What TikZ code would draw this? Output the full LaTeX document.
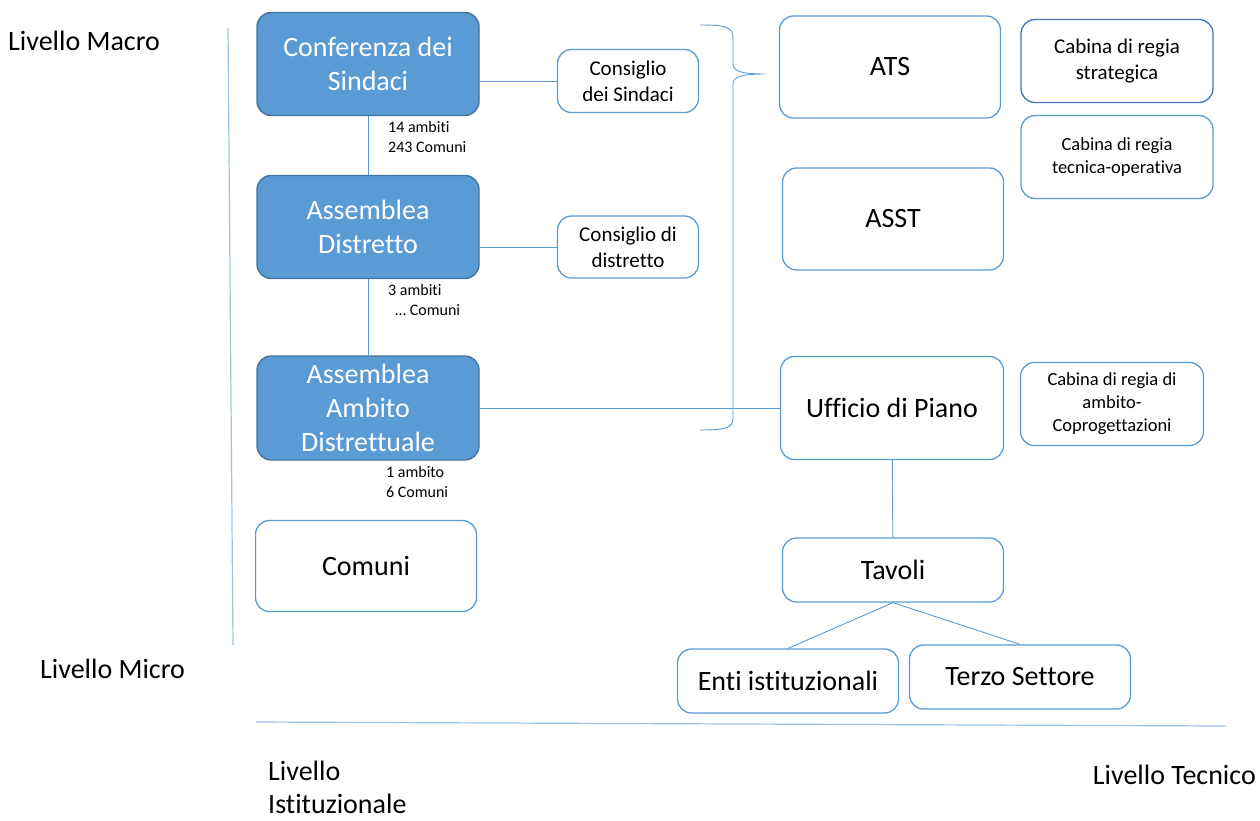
\documentclass[tikz,border=0pt]{standalone}
\usepackage{fontspec}
\setmainfont{Carlito}[Ligatures=NoCommon]
\definecolor{boxblue}{HTML}{5B9BD5}
\definecolor{boxedge}{HTML}{41719C}
\definecolor{darkedge}{HTML}{4472C4}
\definecolor{paleline}{HTML}{9DC3E6}

\begin{document}
\begin{tikzpicture}[x=1pt,y=-1pt,
    bigtxt/.style={font=\fontsize{28}{34}\selectfont},
    midtxt/.style={font=\fontsize{21}{26}\selectfont},
    smalltxt/.style={font=\fontsize{18.5}{23}\selectfont},
    tinytxt/.style={font=\fontsize{16}{20}\selectfont},
    organ/.style={rounded corners=14pt,rectangle,draw=boxedge,line width=1.3pt,fill=boxblue,text=white,align=center,minimum width=222pt,minimum height=103pt,inner sep=0pt,bigtxt},
    wbox/.style={rounded corners=14pt,rectangle,draw=boxblue,line width=1.3pt,fill=white,align=center,inner sep=0pt},
    conn/.style={draw=boxblue,line width=0.9pt}]
          \useasboundingbox (0,0) rectangle (1260,820);
          % side and bottom rules
          \draw[paleline,line width=1.2pt] (228,28) -- (233,645);
          \draw[paleline,line width=1.2pt] (256,722) -- (1226,726);
          % level labels
          \node (macro) at (8,41) [anchor=west,inner sep=0pt,bigtxt] {Livello Macro};
          \node (micro) at (40,669) [anchor=west,inner sep=0pt,bigtxt] {Livello Micro};
          \node (istit) at (268,787) [anchor=west,align=left,inner sep=0pt,font=\fontsize{28}{33}\selectfont] {Livello\\Istituzionale};
          \node (tecn) at (1256,775) [anchor=east,inner sep=0pt,bigtxt] {Livello Tecnico};
          % institutional side
          \node (conf) at (368,64) [organ] {Conferenza dei\\Sindaci};
          \node (distr) at (368,227) [organ] {Assemblea\\Distretto};
          \node (ambito) at (368,408) [organ,minimum height=104pt] {Assemblea\\Ambito\\Distrettuale};
          \node (comuni) at (366,566) [wbox,minimum width=221pt,minimum height=91pt,bigtxt] {Comuni};
          \node (nconf) at (388,137) [anchor=west,align=left,inner sep=0pt,tinytxt] {14 ambiti\\243 Comuni};
          \node (ndistr) at (388,300) [anchor=west,align=left,inner sep=0pt,tinytxt] {3 ambiti\\\hspace{7pt}\ldots\ Comuni};
          \node (nambito) at (386,482) [anchor=west,align=left,inner sep=0pt,tinytxt] {1 ambito\\6 Comuni};
          \node (csind) at (628,81) [wbox,minimum width=141pt,minimum height=63pt,midtxt] {Consiglio\\dei Sindaci};
          \node (cdistr) at (628,247) [wbox,minimum width=141pt,minimum height=62pt,midtxt] {Consiglio di\\distretto};
          % technical side
          \node (ats) at (890,67) [wbox,minimum width=221pt,minimum height=102pt,bigtxt] {ATS};
          \node (asst) at (893,219) [wbox,minimum width=221pt,minimum height=102pt,bigtxt] {ASST};
          \node (upiano) at (892,408) [wbox,minimum width=223pt,minimum height=103pt,bigtxt] {Ufficio di Piano};
          \node (tavoli) at (893,570) [wbox,minimum width=221pt,minimum height=64pt,bigtxt] {Tavoli};
          \node (enti) at (788,681) [wbox,minimum width=221pt,minimum height=64pt,bigtxt] {Enti istituzionali};
          \node (terzo) at (1020,677) [wbox,minimum width=221pt,minimum height=64pt,bigtxt] {Terzo Settore};
          \node (crstrat) at (1117,61) [wbox,draw=darkedge,minimum width=192pt,minimum height=83pt,midtxt] {Cabina di regia\\strategica};
          \node (crtecn) at (1117,157) [wbox,minimum width=192pt,minimum height=83pt,smalltxt] {Cabina di regia\\tecnica-operativa};
          \node (cramb) at (1112,404) [wbox,minimum width=183pt,minimum height=83pt,smalltxt] {Cabina di regia di\\ambito-\\Coprogettazioni};
          % connectors
          \draw[conn] (conf) -- (distr);
          \draw[conn] (distr) -- (ambito);
          \draw[conn] (csind.west -| conf.east) -- (csind.west);
          \draw[conn] (cdistr.west -| distr.east) -- (cdistr.west);
          \draw[conn] (ambito.east) -- (upiano.west);
          \draw[conn] (upiano) -- (tavoli);
          \draw[conn] (tavoli.south) -- (enti.north);
          \draw[conn] (tavoli.south) -- (terzo.north);
          % brace
          \draw[conn] (700,25) .. controls (726,25) and (733,27) .. (733,38) -- (733,64)
          .. controls (733,71) and (741,74) .. (765,74)
          .. controls (741,74) and (733,77) .. (733,84) -- (733,418)
          .. controls (733,428) and (726,430) .. (700,430);
        \end{tikzpicture}
\end{document}
